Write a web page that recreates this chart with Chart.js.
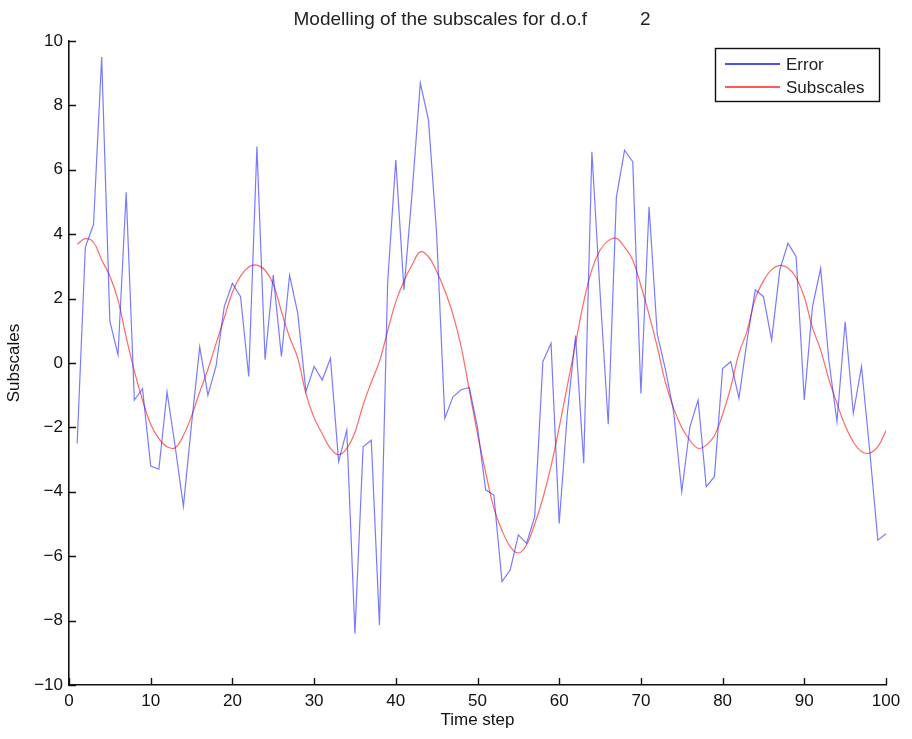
<!DOCTYPE html>
<html>
<head>
<meta charset="utf-8">
<script src="https://cdn.jsdelivr.net/npm/chart.js@4/dist/chart.umd.min.js"></script>
<style>
  html, body { margin: 0; padding: 0; background: #fff; }
  #wrap { width: 912px; height: 739px; position: relative; }
</style>
</head>
<body>
<div id="wrap"><canvas id="c" width="912" height="739"></canvas></div>
<script>
// ---- data ----
const chartTitle = "Modelling of the subscales for d.o.f          2";
const xLabel = "Time step";
const yLabel = "Subscales";
const seriesNames = ["Error", "Subscales"];
const timeSteps = Array.from({length: 100}, (_, i) => i + 1);
const errorValues = [
  -2.5, 3.6, 4.3, 9.5, 1.3, 0.25, 5.3, -1.15, -0.8, -3.2,
  -3.3, -0.9, -2.6, -4.45, -1.9, 0.5, -1.0, -0.1, 1.75, 2.47,
  2.06, -0.42, 6.72, 0.1, 2.73, 0.2, 2.73, 1.54, -0.89, -0.11,
  -0.53, 0.15, -3.06, -2.08, -8.4, -2.6, -2.4, -8.14, 2.5, 6.3,
  2.27, 5.3, 8.69, 7.55, 4.0, -1.72, -1.05, -0.83, -0.76, -2.0,
  -3.94, -4.1, -6.79, -6.43, -5.34, -5.6, -4.77, 0.04, 0.61, -4.98,
  -1.56, 0.85, -3.11, 6.56, 2.2, -1.9, 5.15, 6.61, 6.25, -0.95,
  4.85, 0.9, -0.2, -1.5, -4.0, -1.98, -1.15, -3.84, -3.53, -0.17,
  0.04, -1.1, 0.71, 2.27, 2.06, 0.71, 2.89, 3.72, 3.3, -1.15,
  1.75, 2.94, 0.1, -1.82, 1.28, -1.56, -0.11, -2.7, -5.5, -5.3
];
const subscaleValues = [
  3.69, 3.86, 3.75, 3.2, 2.7, 1.95, 0.8, -0.25, -1.15, -1.9,
  -2.35, -2.6, -2.63, -2.25, -1.65, -0.9, -0.2, 0.6, 1.4, 2.2,
  2.7, 2.98, 3.04, 2.88, 2.45, 1.6, 0.8, 0.15, -0.95, -1.7,
  -2.2, -2.65, -2.85, -2.65, -2.15, -1.3, -0.6, 0.05, 1.0, 1.9,
  2.55, 3.05, 3.45, 3.3, 2.85, 2.25, 1.5, 0.5, -0.85, -2.2,
  -3.4, -4.5, -5.2, -5.7, -5.9, -5.65, -5.0, -4.2, -3.2, -2.0,
  -0.7, 0.6, 1.9, 2.9, 3.5, 3.8, 3.87, 3.6, 3.2, 2.4,
  1.5, 0.5, -0.6, -1.4, -2.0, -2.4, -2.65, -2.55, -2.25, -1.6,
  -0.75, 0.3, 1.0, 2.0, 2.55, 2.9, 3.03, 2.95, 2.65, 2.05,
  1.1, 0.4, -0.5, -1.25, -1.95, -2.45, -2.75, -2.8, -2.6, -2.1
];
const xTicks = [0, 10, 20, 30, 40, 50, 60, 70, 80, 90, 100];
const yTicks = [-10, -8, -6, -4, -2, 0, 2, 4, 6, 8, 10];

// ---- styling ----
const FONT = "'Liberation Sans', Arial, Helvetica, sans-serif";
const lineColors = ["rgba(40,40,255,0.62)", "rgba(255,40,40,0.7)"];
const legendColors = ["#1010ff", "#ff2020"];

const toPoints = (xs, ys) => xs.map((x, i) => ({x: x, y: ys[i]}));

// title drawn over the plot centre (MATLAB style)
const plotTitle = {
  id: 'plotTitle',
  afterDraw(chart) {
    const {ctx} = chart;
    ctx.save();
    ctx.font = "19px " + FONT;
    ctx.fillStyle = '#222';
    ctx.textAlign = 'center';
    ctx.textBaseline = 'middle';
    ctx.fillText(chartTitle, 472, 20);
    ctx.restore();
  }
};

// inward tick marks (MATLAB style)
const inwardTicks = {
  id: 'inwardTicks',
  afterDatasetsDraw(chart) {
    const {ctx, chartArea, scales} = chart;
    ctx.save();
    ctx.strokeStyle = '#111';
    ctx.lineWidth = 1.4;
    ctx.beginPath();
    xTicks.forEach(v => {
      const px = Math.round(scales.x.getPixelForValue(v)) + 0.5;
      ctx.moveTo(px, chartArea.bottom);
      ctx.lineTo(px, chartArea.bottom - 7);
    });
    yTicks.forEach(v => {
      const py = Math.round(scales.y.getPixelForValue(v)) + 0.5;
      ctx.moveTo(chartArea.left, py);
      ctx.lineTo(chartArea.left + 7, py);
    });
    ctx.stroke();
    ctx.restore();
  }
};

// boxed legend inside the plot (MATLAB style)
const boxLegend = {
  id: 'boxLegend',
  afterDraw(chart) {
    const {ctx} = chart;
    const x0 = 715, y0 = 48, w = 164, h = 53;
    ctx.save();
    ctx.fillStyle = '#fff';
    ctx.fillRect(x0, y0, w, h);
    ctx.strokeStyle = '#111';
    ctx.lineWidth = 1.4;
    ctx.strokeRect(x0 + 0.5, y0 + 0.5, w, h);
    ctx.font = "17px " + FONT;
    ctx.textBaseline = 'middle';
    ctx.textAlign = 'left';
    chart.data.datasets.forEach((ds, i) => {
      const y = y0 + 16 + i * 23;
      ctx.strokeStyle = legendColors[i];
      ctx.lineWidth = 1.4;
      ctx.beginPath();
      ctx.moveTo(x0 + 10, y);
      ctx.lineTo(x0 + 65, y);
      ctx.stroke();
      ctx.fillStyle = '#222';
      ctx.fillText(ds.label, x0 + 71, y + 1);
    });
    ctx.restore();
  }
};

new Chart(document.getElementById('c'), {
  type: 'line',
  data: {
    datasets: [
      {
        label: seriesNames[0],
        data: toPoints(timeSteps, errorValues),
        borderColor: lineColors[0],
        borderWidth: 1.2,
        pointRadius: 0,
        tension: 0,
        fill: false
      },
      {
        label: seriesNames[1],
        data: toPoints(timeSteps, subscaleValues),
        borderColor: lineColors[1],
        borderWidth: 1.2,
        pointRadius: 0,
        tension: 0.4,
        fill: false
      }
    ]
  },
  options: {
    responsive: false,
    animation: false,
    devicePixelRatio: 1,
    layout: { padding: { left: 0, right: 26, top: 41, bottom: 0 } },
    plugins: {
      legend: { display: false },
      tooltip: { enabled: false },
      title: { display: false }
    },
    scales: {
      x: {
        type: 'linear',
        min: 0, max: 100,
        afterFit(scale) { scale.height = 54; },
        afterBuildTicks(scale) { scale.ticks = xTicks.map(v => ({value: v})); },
        grid: { display: false, drawTicks: false },
        border: { display: true, color: '#111', width: 1.6 },
        ticks: { color: '#111', padding: 6, font: { family: FONT, size: 17 }, maxRotation: 0, autoSkip: false },
        title: { display: true, text: xLabel, color: '#111', font: { family: FONT, size: 17 }, padding: { top: 0, bottom: 8 } }
      },
      y: {
        type: 'linear',
        min: -10, max: 10,
        afterFit(scale) { scale.width = 69; },
        afterBuildTicks(scale) { scale.ticks = yTicks.map(v => ({value: v})); },
        grid: { display: false, drawTicks: false },
        border: { display: true, color: '#111', width: 1.6 },
        ticks: {
          color: '#111', padding: 6, font: { family: FONT, size: 17 }, autoSkip: false,
          callback: v => (v < 0 ? '\u2212' + Math.abs(v) : String(v))
        },
        title: { display: true, text: yLabel, color: '#111', font: { family: FONT, size: 17 }, padding: { top: 4, bottom: 0 } }
      }
    }
  },
  plugins: [inwardTicks, boxLegend, plotTitle]
});
</script>
</body>
</html>
